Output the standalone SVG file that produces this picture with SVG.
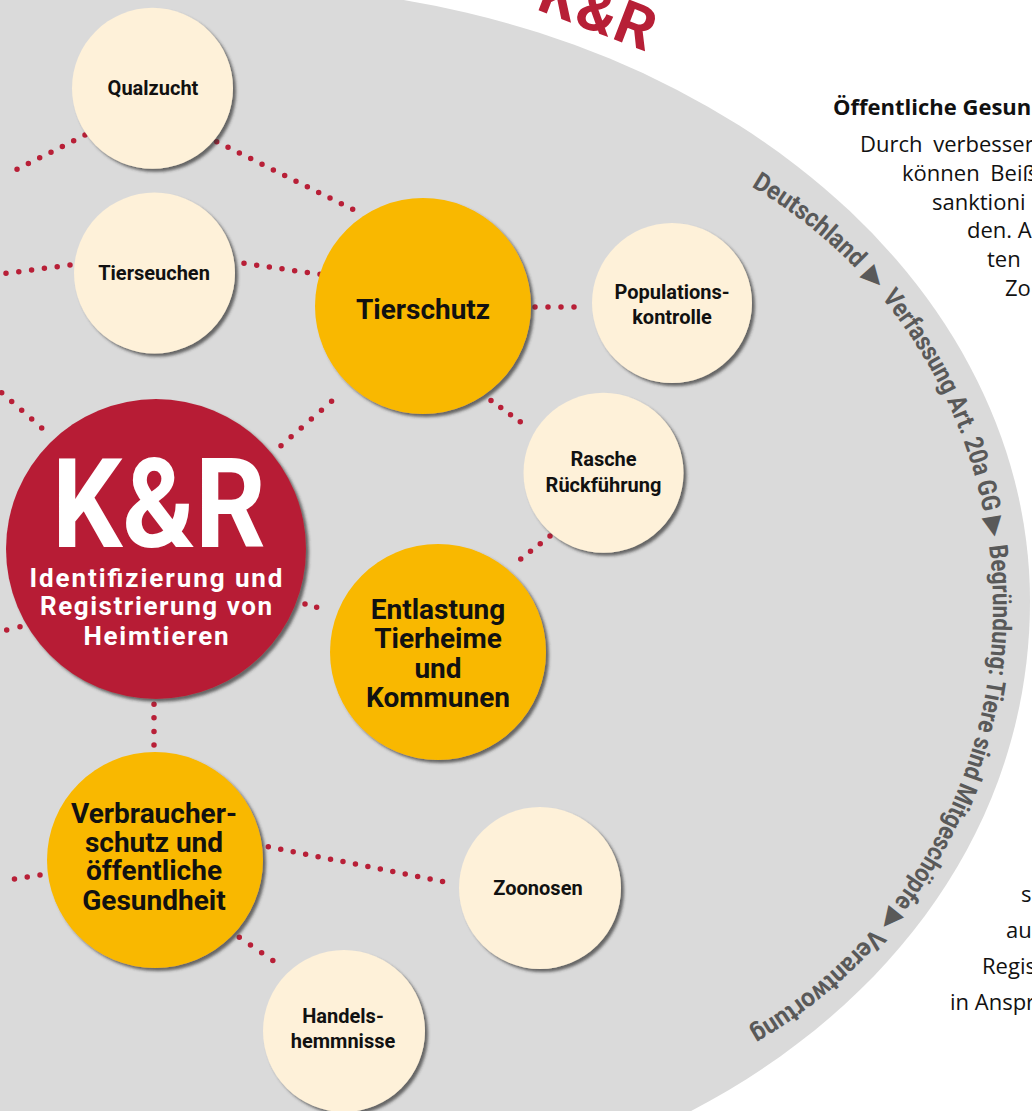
<svg xmlns="http://www.w3.org/2000/svg" width="1032" height="1111" viewBox="0 0 1032 1111">
<style>
.lbl{font-family:Roboto,"Liberation Sans",sans-serif;font-weight:700;fill:#111;text-anchor:middle}
.s{font-size:20px}
.b{font-size:28px}
.cream{fill:#fef1d9}
.yel{fill:#f9b800}
.red{fill:#b71f36}
.side{font-family:"Open Sans","Noto Sans",sans-serif;font-size:22px;fill:#111}
.arc{font-family:Roboto,"DejaVu Sans",sans-serif;font-weight:700;font-size:26px;fill:#595959}
.tri{font-family:"DejaVu Sans",sans-serif;font-size:26px;fill:#595959;text-anchor:middle}
</style>
<defs>
<filter id="sh" x="-10%" y="-10%" width="125%" height="125%">
<feDropShadow dx="3" dy="3" stdDeviation="1.5" flood-color="#333" flood-opacity="0.7"/>
</filter>
<path id="textarc" d="M505 120 A488 488 0 0 1 993 608 A488 488 0 0 1 505 1096"/>
</defs>
<rect width="1032" height="1111" fill="#fff"/>
<path id="disc" fill="#dadada" d="M235 -14 A795 615 0 0 1 1030 601 C1030 951.6 688 1216 235 1216 L-10 1216 L-10 -14 Z"/>
<text transform="translate(535,9) rotate(21)" font-family="Roboto,'Liberation Sans',sans-serif" font-weight="700" font-size="60" letter-spacing="1.5" fill="#b71f36">K&amp;R</text>
<g id="arctext">
<text class="arc"><textPath href="#textarc" startOffset="258" textLength="133" lengthAdjust="spacingAndGlyphs">Deutschland</textPath></text>
<text class="tri"><textPath href="#textarc" startOffset="410">▶</textPath></text>
<text class="arc"><textPath href="#textarc" startOffset="430" textLength="240" lengthAdjust="spacingAndGlyphs">Verfassung Art. 20a GG</textPath></text>
<text class="tri"><textPath href="#textarc" startOffset="686">▶</textPath></text>
<text class="arc"><textPath href="#textarc" startOffset="704" textLength="379" lengthAdjust="spacingAndGlyphs">Begründung: Tiere sind Mitgeschöpfe</textPath></text>
<text class="tri"><textPath href="#textarc" startOffset="1098">▶</textPath></text>
<text class="arc"><textPath href="#textarc" startOffset="1115" textLength="162" lengthAdjust="spacingAndGlyphs">Verantwortung</textPath></text>
</g>
<g id="sidetext">
<text class="side" x="833" y="115" font-weight="700">Öffentliche Gesun</text>
<text class="side" x="860" y="152" word-spacing="5">Durch verbesser</text>
<text class="side" x="902" y="181" word-spacing="5">können Beiß</text>
<text class="side" x="932" y="210">sanktioni</text>
<text class="side" x="967" y="238">den. A</text>
<text class="side" x="987" y="267">ten</text>
<text class="side" x="1005" y="296">Zo</text>
<text class="side" x="1021" y="902">s</text>
<text class="side" x="1006" y="938">au</text>
<text class="side" x="982" y="974">Regis</text>
<text class="side" x="950" y="1010">in Anspr</text>
</g>
<g id="connectors" fill="none" stroke="#b81f37" stroke-width="5.5" stroke-linecap="round" stroke-dasharray="0 1">
<path pathLength="13" d="M216.7 141.7 L364 215"/>
<path pathLength="7" d="M85 135 L5.7 175"/>
<path pathLength="5" d="M70 265 L6 273.3"/>
<path pathLength="6" d="M244 263.3 L320 274.3"/>
<path pathLength="5" d="M1.7 392.7 L51.7 436.7"/>
<path pathLength="6" d="M281 445.7 L341.7 392.5"/>
<path pathLength="4" d="M535 307 L587 307"/>
<path pathLength="4" d="M491 400.4 L530 429"/>
<path pathLength="4" d="M550 536 L511 566.7"/>
<path pathLength="2" d="M305 604 L328.3 610.7"/>
<path pathLength="2" d="M20 626.7 L-6.6 633.3"/>
<path pathLength="3" d="M154 704.3 L154 745"/>
<path pathLength="3" d="M40 875 L1.7 881"/>
<path pathLength="15" d="M268.3 846.7 L455 884"/>
<path pathLength="4" d="M239.3 937.3 L284 968.3"/>
</g>
<g id="qualzucht"><circle class="cream" cx="152.5" cy="88.3" r="80.5" filter="url(#sh)"/><text class="lbl s" x="153" y="95">Qualzucht</text></g>
<g id="tierseuchen"><circle class="cream" cx="154.5" cy="273" r="80.5" filter="url(#sh)"/><text class="lbl s" x="154" y="280">Tierseuchen</text></g>
<g id="tierschutz"><circle class="yel" cx="423" cy="306" r="108" filter="url(#sh)"/><text class="lbl b" x="423" y="319">Tierschutz</text></g>
<g id="populationskontrolle"><circle class="cream" cx="672" cy="303" r="80" filter="url(#sh)"/><text class="lbl s" x="672" y="299">Populations-</text><text class="lbl s" x="672" y="324">kontrolle</text></g>
<g id="rasche"><circle class="cream" cx="603.5" cy="472.8" r="80" filter="url(#sh)"/><text class="lbl s" x="603.5" y="466">Rasche</text><text class="lbl s" x="603.5" y="492">Rückführung</text></g>
<g id="kr"><circle class="red" cx="156" cy="549" r="150" filter="url(#sh)"/>
<text x="159" y="547" text-anchor="middle" font-family="Roboto,'Liberation Sans',sans-serif" font-weight="700" font-size="124" fill="#fff" textLength="214" lengthAdjust="spacingAndGlyphs">K&amp;R</text>
<g font-family="Roboto,'Liberation Sans',sans-serif" font-weight="700" font-size="26" fill="#fff" text-anchor="middle">
<text x="156" y="587" textLength="253">Identifizierung und</text>
<text x="156" y="615" textLength="232">Registrierung von</text>
<text x="156" y="645" textLength="145">Heimtieren</text>
</g></g>
<g id="entlastung"><circle class="yel" cx="438" cy="652" r="108" filter="url(#sh)"/><text class="lbl b" x="438" y="619">Entlastung</text><text class="lbl b" x="438" y="648">Tierheime</text><text class="lbl b" x="438" y="678">und</text><text class="lbl b" x="438" y="707">Kommunen</text></g>
<g id="verbraucherschutz"><circle class="yel" cx="155" cy="860" r="108" filter="url(#sh)"/><text class="lbl b" x="154" y="823">Verbraucher-</text><text class="lbl b" x="154" y="852">schutz und</text><text class="lbl b" x="154" y="880">öffentliche</text><text class="lbl b" x="154" y="910">Gesundheit</text></g>
<g id="zoonosen"><circle class="cream" cx="540" cy="888" r="81" filter="url(#sh)"/><text class="lbl s" x="538" y="895">Zoonosen</text></g>
<g id="handelshemmnisse"><circle class="cream" cx="344" cy="1031" r="81" filter="url(#sh)"/><text class="lbl s" x="343" y="1023">Handels-</text><text class="lbl s" x="343" y="1048">hemmnisse</text></g>
</svg>
